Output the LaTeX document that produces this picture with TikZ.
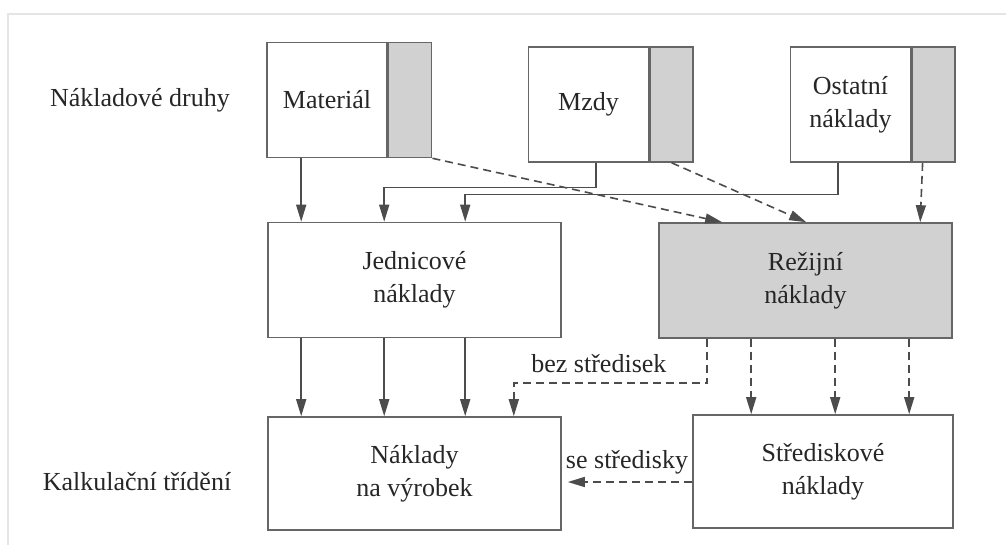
\documentclass[tikz,border=0pt]{standalone}
\usepackage{fontspec}
\setmainfont{Liberation Serif}
\usetikzlibrary{arrows.meta, calc}

\begin{document}
\begin{tikzpicture}
	[%
	x=0.5pt, y=-0.5pt,
	every node/.style={font=\rmfamily\fontsize{13}{16.5}\selectfont, text=black!85},%
	druh/.style ={rectangle,	draw=black!60,	line width=0.8pt,	inner sep=0pt,	minimum width=60pt,	minimum height=57.5pt,	align=center},%
	pruh/.style ={rectangle,	draw=black!60,	fill=black!18,	line width=0.8pt,	inner sep=0pt,	minimum width=21.5pt,	minimum height=57.5pt,	anchor=west},%
	blok/.style ={rectangle,	draw=black!60,	line width=0.8pt,	inner sep=0pt,	minimum width=146.5pt,	minimum height=57.5pt,	align=center},%
	sipka/.style={line width=0.8pt,	draw=black!70,	-{Triangle[length=8.5pt, width=5pt]}},%
	carka/.style={sipka,	dash pattern=on 4pt off 2.5pt},%
	]

	\useasboundingbox (0,0) rectangle (1006,545);
	\draw [black!10, line width=1.2pt] (8,545) -- (8,14) -- (1006,14);

	% nodes
	\node (material)	at (327,100)	[druh] {Materiál};
	\node (materialS)	at (material.east)	[pruh] {};
	\node (mzdy)		at (588.5,104.5)	[druh] {Mzdy};
	\node (mzdyS)		at (mzdy.east)		[pruh] {};
	\node (ostatni)	at (850.5,104.5)	[druh] {Ostatní\\náklady};
	\node (ostatniS)	at (ostatni.east)	[pruh] {};

	\node (jednic)		at (414.5,280)		[blok] {Jednicové\\náklady};
	\node (rezijni)	at (805.5,280.5)	[blok, fill=black!18] {Režijní\\náklady};
	\node (vyrobek)	at (414.5,473.5)	[blok, minimum height=56.5pt] {Náklady\\na výrobek};
	\node (stredisk)	at (823,471.5)		[blok, minimum width=130pt, minimum height=56.5pt] {Střediskové\\náklady};

	\node (druhy)		at (140,100)	{Nákladové druhy};
	\node (kalk)		at (137,482)	{Kalkulační třídění};

	\foreach \i/\dx in {1/34,2/117,3/198} \coordinate (j\i) at ($(jednic.north west)+(\dx,0)$);

	% interconnections
	\draw [sipka] (material.south -| j1) -- (j1);
	\draw [sipka] ($(mzdy.south)+(7.5,0)$) |- ($(j2)+(0,-34)$) -- (j2);
	\draw [sipka] ($(ostatni.south)+(-12.5,0)$) |- ($(j3)+(0,-27)$) -- (j3);
	\foreach \i in {1,2,3}%
		\draw [sipka] (jednic.south -| j\i) -- (vyrobek.north -| j\i);

	\draw [carka] (materialS.south east) -- ($(rezijni.north west)+(64,0)$);
	\draw [carka] (mzdyS.south) -- ($(rezijni.north west)+(148,0)$);
	\draw [carka] ($(ostatniS.south)+(-11,0)$) -- ($(rezijni.north west)+(262,0)$);

	\draw [carka] ($(rezijni.south west)+(49,0)$) |- node [pos=0.78, above, yshift=1.5pt] {bez středisek} ($(vyrobek.north east)+(-48,-33)$) -- ($(vyrobek.north east)+(-48,0)$);
	\foreach \dx in {93,177,251}%
		\draw [carka] ($(rezijni.south west)+(\dx,0)$) coordinate (r) -- (r |- stredisk.north);
	\draw [carka, shorten >=3pt] ($(stredisk.west)+(0,10.5)$) -- node [above] {se středisky} ($(vyrobek.east)+(0,8.5)$);

\end{tikzpicture}
\end{document}
